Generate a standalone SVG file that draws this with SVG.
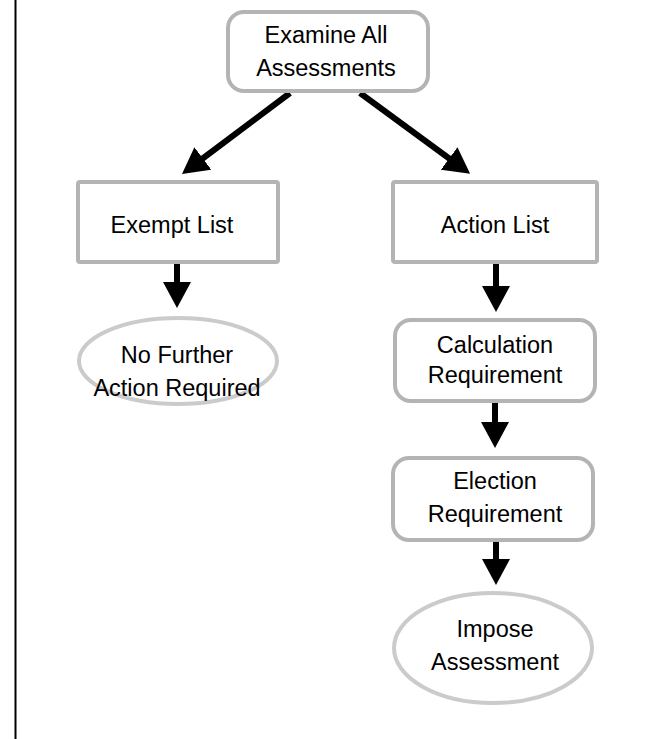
<svg xmlns="http://www.w3.org/2000/svg" width="664" height="739" viewBox="0 0 664 739">
<style>
.box{fill:#fff;stroke:#b4b4b4;stroke-width:4}
.ell{fill:#fff;stroke:#cbcbcb;stroke-width:4}
.t{font-family:"Liberation Sans",Arial,sans-serif;font-size:23.5px;fill:#000;text-anchor:middle}
.c{stroke:#000;stroke-width:6;fill:none;marker-end:url(#ah)}
</style>
<defs>
<marker id="ah" markerUnits="userSpaceOnUse" markerWidth="26" markerHeight="28" refX="6" refY="14" orient="auto">
<path d="M0,0 L26,14 L0,28 z" fill="#000"/>
</marker>
</defs>
<rect width="664" height="739" fill="#fff"/>
<line x1="15.5" y1="0" x2="15.5" y2="739" stroke="#000" stroke-width="2"/>
<g id="connectors">
<line class="c" x1="290" y1="93" x2="198" y2="162"/>
<line class="c" x1="360" y1="93" x2="454" y2="162"/>
<line class="c" x1="177" y1="262" x2="177" y2="288"/>
<line class="c" x1="496" y1="262" x2="496" y2="292"/>
<line class="c" x1="495" y1="401" x2="495" y2="428"/>
<line class="c" x1="496" y1="540" x2="496" y2="565"/>
</g>
<g id="examine">
<rect class="box" x="228" y="12" width="200" height="79" rx="16"/>
<text class="t" x="326" y="43">Examine All</text>
<text class="t" x="326" y="76">Assessments</text>
</g>
<g id="exempt">
<rect class="box" x="78" y="182" width="200" height="80" rx="2"/>
<text class="t" x="172" y="233">Exempt List</text>
</g>
<g id="action">
<rect class="box" x="393" y="182" width="204" height="80" rx="2"/>
<text class="t" x="495" y="233">Action List</text>
</g>
<g id="nofurther">
<ellipse class="ell" cx="178" cy="361" rx="99" ry="43"/>
<text class="t" x="177" y="363">No Further</text>
<text class="t" x="177" y="396">Action Required</text>
</g>
<g id="calculation">
<rect class="box" x="395" y="320" width="200" height="81" rx="16"/>
<text class="t" x="495" y="353">Calculation</text>
<text class="t" x="495" y="383">Requirement</text>
</g>
<g id="election">
<rect class="box" x="393" y="458" width="200" height="82" rx="16"/>
<text class="t" x="495" y="489">Election</text>
<text class="t" x="495" y="522">Requirement</text>
</g>
<g id="impose">
<ellipse class="ell" cx="493" cy="648" rx="99" ry="55"/>
<text class="t" x="495" y="637">Impose</text>
<text class="t" x="495" y="670">Assessment</text>
</g>
</svg>
